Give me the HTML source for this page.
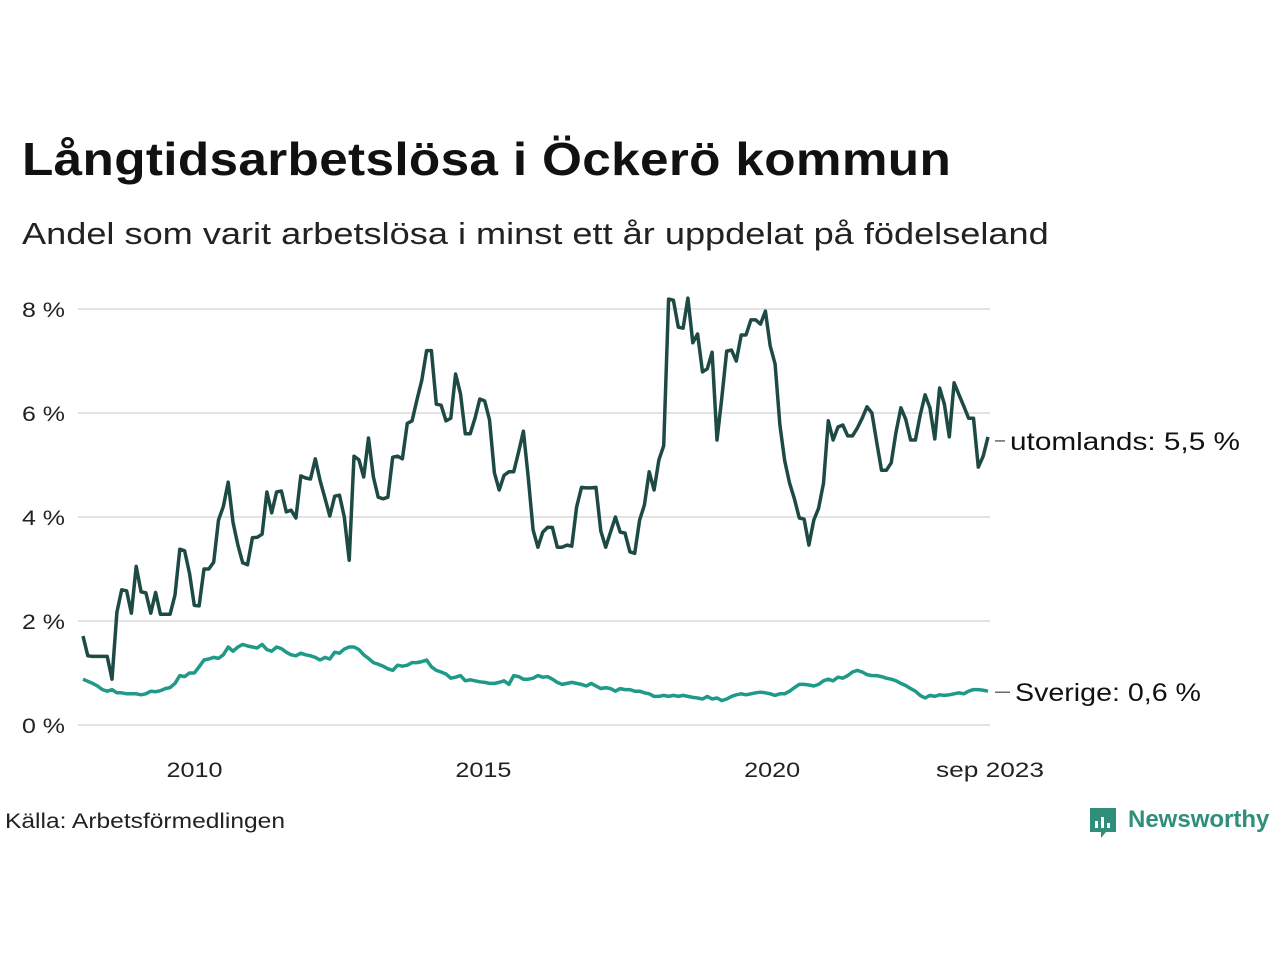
<!DOCTYPE html>
<html><head><meta charset="utf-8"><style>
body{margin:0;background:#fff;font-family:"Liberation Sans","DejaVu Sans",sans-serif;}
#wrap{position:relative;width:1280px;height:960px;overflow:hidden;background:#fff}
.t{position:absolute;white-space:nowrap;color:#111;transform-origin:0 50%}
</style></head><body><div id="wrap">
<div class="t" style="left:22px;top:132px;font-size:46px;font-weight:bold;letter-spacing:0.3px;transform:scaleX(1.115)">Långtidsarbetslösa i Öckerö kommun</div>
<div class="t" style="left:22px;top:216px;font-size:31px;color:#222;transform:scaleX(1.166)">Andel som varit arbetslösa i minst ett år uppdelat på födelseland</div>
<svg id="chart" width="1280" height="960" style="position:absolute;left:0;top:0"></svg>
<div class="t" style="left:5px;top:810px;font-size:21px;color:#222;transform:scaleX(1.17)">Källa: Arbetsförmedlingen</div>
<div style="position:absolute;left:1088px;top:806px;">
<svg width="30" height="34"><path d="M2 2h26v24h-10l-5 6v-6H2z" fill="#2f8f7a"/><rect x="7" y="15" width="3" height="7" fill="#fff"/><rect x="13" y="11" width="3" height="11" fill="#fff"/><rect x="19" y="17" width="3" height="5" fill="#fff"/></svg>
<span class="t" style="left:40px;top:0px;font-size:24px;font-weight:bold;color:#2f8f7a">Newsworthy</span></div>
</div>
<script>
const yTicks=[0,2,4,6,8];
const xTickYears=[2010,2015,2020];
const utomlands=[1.71,1.33,1.32,1.32,1.32,1.32,0.88,2.17,2.6,2.58,2.15,3.05,2.56,2.54,2.15,2.55,2.13,2.13,2.13,2.5,3.38,3.35,2.92,2.3,2.29,3.0,3.0,3.13,3.94,4.2,4.67,3.9,3.46,3.12,3.08,3.6,3.61,3.67,4.48,4.08,4.48,4.5,4.1,4.13,3.98,4.79,4.75,4.73,5.12,4.7,4.36,4.02,4.4,4.42,4.0,3.17,5.17,5.1,4.77,5.52,4.77,4.38,4.35,4.38,5.15,5.17,5.12,5.8,5.85,6.25,6.63,7.2,7.2,6.17,6.15,5.85,5.9,6.75,6.37,5.6,5.6,5.9,6.27,6.23,5.87,4.85,4.52,4.8,4.87,4.87,5.25,5.65,4.77,3.75,3.42,3.71,3.8,3.8,3.42,3.42,3.46,3.44,4.19,4.57,4.56,4.56,4.57,3.73,3.42,3.71,4.0,3.71,3.69,3.33,3.3,3.94,4.23,4.87,4.52,5.1,5.37,8.19,8.17,7.65,7.63,8.21,7.35,7.52,6.79,6.85,7.17,5.48,6.29,7.19,7.21,7.0,7.5,7.5,7.79,7.79,7.71,7.96,7.29,6.94,5.77,5.08,4.65,4.35,3.98,3.96,3.46,3.94,4.17,4.65,5.85,5.48,5.73,5.77,5.56,5.56,5.71,5.9,6.12,6.0,5.44,4.9,4.9,5.04,5.63,6.1,5.88,5.48,5.48,5.96,6.35,6.1,5.5,6.48,6.17,5.54,6.58,6.35,6.13,5.9,5.9,4.96,5.17,5.54];
const sverige=[0.88,0.84,0.8,0.75,0.68,0.65,0.68,0.62,0.62,0.6,0.6,0.6,0.58,0.6,0.65,0.64,0.66,0.7,0.72,0.8,0.95,0.93,1.0,1.0,1.12,1.25,1.27,1.3,1.28,1.35,1.5,1.42,1.5,1.55,1.52,1.5,1.48,1.55,1.45,1.42,1.5,1.47,1.4,1.35,1.33,1.38,1.35,1.33,1.3,1.25,1.3,1.27,1.4,1.38,1.46,1.5,1.5,1.45,1.35,1.28,1.2,1.17,1.13,1.08,1.05,1.15,1.13,1.15,1.2,1.2,1.22,1.25,1.12,1.05,1.02,0.98,0.9,0.92,0.95,0.85,0.87,0.85,0.83,0.82,0.8,0.8,0.82,0.85,0.78,0.95,0.93,0.88,0.88,0.9,0.95,0.92,0.93,0.88,0.82,0.78,0.8,0.82,0.8,0.78,0.75,0.8,0.75,0.7,0.72,0.7,0.65,0.7,0.68,0.68,0.65,0.65,0.62,0.6,0.55,0.55,0.57,0.55,0.57,0.55,0.57,0.55,0.53,0.52,0.5,0.55,0.5,0.52,0.47,0.5,0.55,0.58,0.6,0.58,0.6,0.62,0.63,0.62,0.6,0.57,0.6,0.6,0.65,0.72,0.78,0.78,0.77,0.75,0.78,0.85,0.88,0.85,0.92,0.9,0.95,1.02,1.05,1.02,0.97,0.95,0.95,0.93,0.9,0.88,0.85,0.8,0.76,0.7,0.65,0.57,0.52,0.57,0.55,0.58,0.57,0.58,0.6,0.62,0.6,0.65,0.68,0.68,0.67,0.65];
const startYear=2008, endMonthIdx=188; // Jan 2008 .. Sep 2023
const NS='http://www.w3.org/2000/svg';
const svg=document.getElementById('chart');
const x0=83,x1=988,yBase=725,pxPer=52;
function xMonth(m){return x0+(x1-x0)*m/endMonthIdx;}
function xIdx(i,n){return x0+(x1-x0)*i/(n-1);}
function y(v){return yBase-v*pxPer;}
function mk(t,a){const e=document.createElementNS(NS,t);for(const k in a)e.setAttribute(k,a[k]);svg.appendChild(e);return e;}
yTicks.forEach(v=>{
 const g=mk('line',{x1:78,x2:990,y1:y(v),y2:y(v),stroke:'#e3e3e3','stroke-width':2});
 
 
 const t=mk('text',{x:22,y:y(v)+8,'font-size':21,fill:'#222',textLength:43,lengthAdjust:'spacingAndGlyphs'});t.textContent=v+' %';
 
 
});
xTickYears.forEach(yr=>{
 const t=mk('text',{x:xMonth((yr-startYear)*12)-4,y:777,'font-size':21,fill:'#222','text-anchor':'middle',textLength:56,lengthAdjust:'spacingAndGlyphs'});t.textContent=yr;
 
 
});
const te=mk('text',{x:x1+2,y:777,'font-size':21,fill:'#222','text-anchor':'middle',textLength:108,lengthAdjust:'spacingAndGlyphs'});te.textContent='sep 2023';


function line(data,color,name){
 const d=data.map((v,i)=>(i?'L':'M')+xIdx(i,data.length).toFixed(1)+' '+y(v).toFixed(1)).join('');
 const p=mk('path',{d:d,fill:'none',stroke:color,'stroke-width':3.5,'stroke-linejoin':'round'});
 
 
}
line(sverige,'#1f9a88','line-sverige');
line(utomlands,'#1e4a45','line-utomlands');
function label(txt,name,ly,lx,len){
 const l=mk('line',{x1:995,x2:lx-5,y1:ly,y2:ly,stroke:'#444','stroke-width':1.2});
 
 
 const t=mk('text',{x:lx,y:ly+9,'font-size':25,fill:'#111',textLength:len,lengthAdjust:'spacingAndGlyphs'});t.textContent=txt;
 
 
}
label('utomlands: 5,5 %','label-utomlands',y(utomlands[utomlands.length-1])+4,1010,230);
label('Sverige: 0,6 %','label-sverige',y(sverige[sverige.length-1])+1,1015,186);
</script></body></html>
